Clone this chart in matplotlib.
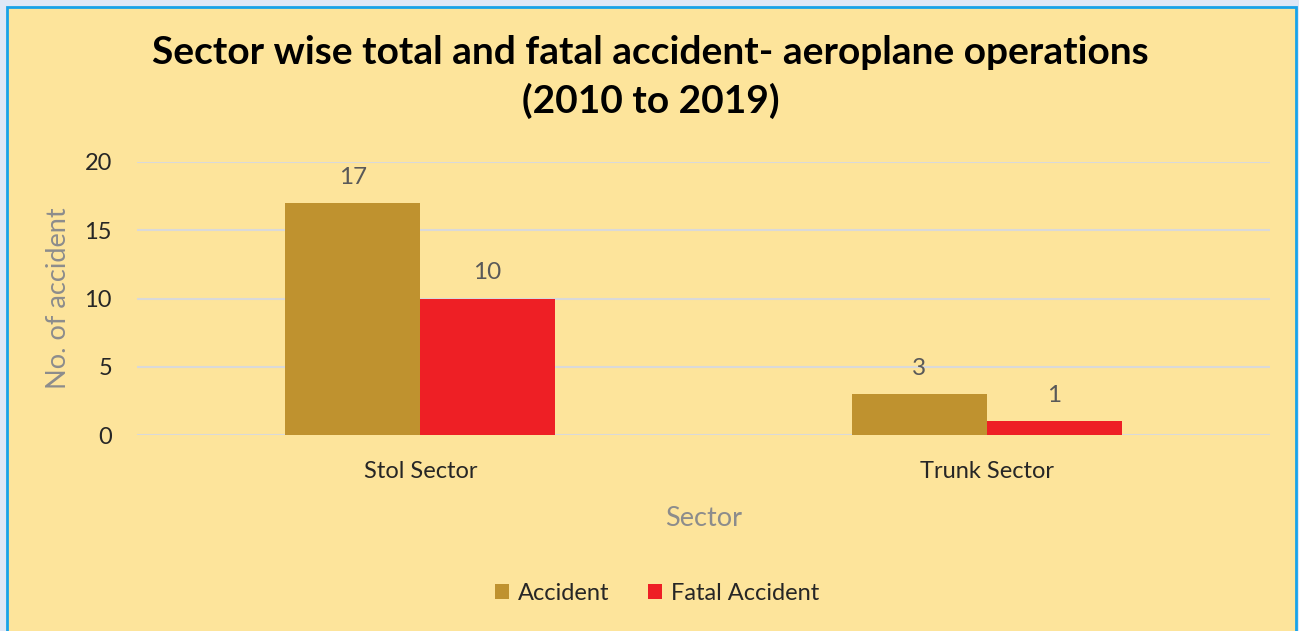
import matplotlib.pyplot as plt
from matplotlib.patches import Rectangle
import numpy as np

plt.rcParams['font.family'] = ['Lato', 'DejaVu Sans']

# data
sectors = ['Stol Sector', 'Trunk Sector']
accident = [17, 3]
fatal = [10, 1]

bg = '#fde49b'
c_acc = '#bf922f'
c_fatal = '#ee1f25'

fig = plt.figure(figsize=(12.99, 6.31), dpi=100)
fig.patch.set_facecolor('#dfe7f6')
# chart frame with blue border
fig.patches.append(Rectangle((7 / 1299, -0.05), 1289 / 1299, 1 - 7 / 631 + 0.05,
                             transform=fig.transFigure, facecolor=bg,
                             edgecolor='#19a2e8', linewidth=2, zorder=-1))

ax = fig.add_axes([137 / 1299, 1 - 435 / 631, 1133 / 1299, 273 / 631])
ax.set_facecolor('none')
ax.set_zorder(2)

x = np.arange(len(sectors))
w = 0.238
b1 = ax.bar(x - w / 2, accident, w, color=c_acc, label='Accident', zorder=3)
b2 = ax.bar(x + w / 2, fatal, w, color=c_fatal, label='Fatal Accident', zorder=3)

for bars in (b1, b2):
    for r in bars:
        ax.annotate(f'{int(r.get_height())}', (r.get_x() + r.get_width() / 2, r.get_height()),
                    xytext=(0, 11), textcoords='offset points', ha='center', va='bottom',
                    fontsize=17.5, color='#595959')

ax.set_xlim(-0.5, 1.5)
ax.set_ylim(0, 20)
ax.set_yticks([0, 5, 10, 15, 20])
ax.set_xticks(x)
ax.set_xticklabels(sectors)
ax.grid(axis='y', color='#d9d9d9', linewidth=1.5, zorder=0)
ax.set_axisbelow(True)
for s in ax.spines.values():
    s.set_visible(False)
ax.tick_params(axis='both', length=0, labelsize=17, labelcolor='#262626')
ax.tick_params(axis='y', pad=18)
ax.tick_params(axis='x', pad=19)

ax.set_xlabel('Sector', fontsize=19.5, color='#8c8c8c', labelpad=17)
ax.set_ylabel('No. of accident', fontsize=19.5, color='#8c8c8c', labelpad=10)

fig.text(0.501, 1 - 52 / 631, 'Sector wise total and fatal accident- aeroplane operations',
         ha='center', va='center', fontsize=28, fontweight='bold', color='#000000')
fig.text(0.501, 1 - 101 / 631, '(2010 to 2019)',
         ha='center', va='center', fontsize=28, fontweight='bold', color='#000000')

fig.legend(handles=[b1, b2], loc='center', bbox_to_anchor=(657 / 1299, 1 - 593 / 631),
           ncol=2, frameon=False, fontsize=17, handlelength=0.6, handleheight=0.6,
           handletextpad=0.4, columnspacing=1.6, labelcolor='#262626')

fig.savefig('out.png', dpi=100, facecolor=fig.get_facecolor())
